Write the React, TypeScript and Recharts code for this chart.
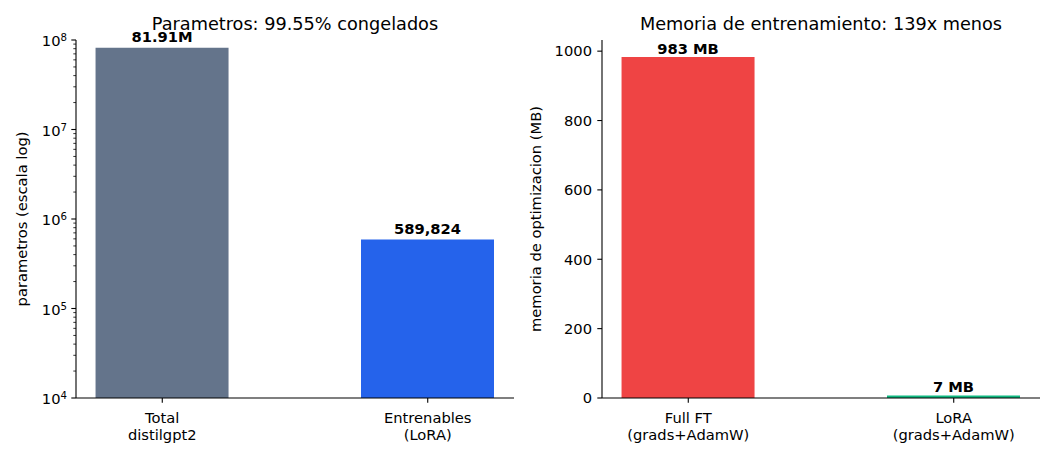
import React from 'react'
import { BarChart, Bar, XAxis, YAxis, Cell, LabelList } from 'recharts'

// Parametros (escala log)
const paramLabels = ['Total\ndistilgpt2', 'Entrenables\n(LoRA)']
const paramValues = [81912576, 589824]
const paramColors = ['#64748b', '#2563eb']
const paramTicks = [1e4, 1e5, 1e6, 1e7, 1e8]

// Memoria de optimizacion (MB)
const memLabels = ['Full FT\n(grads+AdamW)', 'LoRA\n(grads+AdamW)']
const memValues = [983, 7]
const memColors = ['#ef4444', '#10b981']
const memTicks = [0, 200, 400, 600, 800, 1000]

const paramData = paramLabels.map((label, i) => ({ idx: i, label, value: paramValues[i] }))
const memData = memLabels.map((label, i) => ({ idx: i, label, value: memValues[i] }))

// minor ticks of the log axis (2..9 per decade)
const paramMinorTicks = paramTicks.slice(0, -1).flatMap((d) => [2, 3, 4, 5, 6, 7, 8, 9].map((m) => m * d))

const FONT = 'DejaVu Sans, sans-serif'
const FS = 14.7
const W = 528
const H = 462
const TOP = 40
const XAXIS_H = 64
const AXIS_Y = H - XAXIS_H

const fmtParams = (v: number) => (v >= 1e6 ? (v / 1e6).toFixed(2) + 'M' : v.toLocaleString('en-US'))
const fmtMem = (v: number) => `${Math.round(v)} MB`

const makeXTick = (labels: string[]) => (props: any) => {
  const { x, payload } = props
  const lines = (labels[payload.value] || '').split('\n')
  return (
    <g>
      <line x1={x} x2={x} y1={AXIS_Y} y2={AXIS_Y + 4.7} stroke="#000" strokeWidth={1.1} />
      {lines.map((l, i) => (
        <text key={i} x={x} y={AXIS_Y + 25 + i * 17} textAnchor="middle" fontSize={FS} fontFamily={FONT} fill="#000">
          {l}
        </text>
      ))}
    </g>
  )
}

const makeLogTick = (axisX: number) => (props: any) => {
  const { y, payload } = props
  const lg = Math.log10(payload.value)
  const exp = Math.round(lg)
  const major = Math.abs(lg - exp) < 1e-6
  return (
    <g>
      <line x1={axisX - (major ? 4.7 : 2.7)} x2={axisX} y1={y} y2={y} stroke="#000" strokeWidth={major ? 1.1 : 0.8} />
      {major && (
        <text x={axisX - 9} y={y + 6} textAnchor="end" fontSize={FS} fontFamily={FONT} fill="#000">
          10
          <tspan dy={-5} fontSize={10.2}>
            {exp}
          </tspan>
        </text>
      )}
    </g>
  )
}

const makeLinTick = (axisX: number) => (props: any) => {
  const { y, payload } = props
  return (
    <g>
      <line x1={axisX - 4.7} x2={axisX} y1={y} y2={y} stroke="#000" strokeWidth={1.1} />
      <text x={axisX - 10} y={y + 5.3} textAnchor="end" fontSize={FS} fontFamily={FONT} fill="#000">
        {payload.value}
      </text>
    </g>
  )
}

const makeBarLabel = (fmt: (v: number) => string, gap: number) => (props: any) => {
  const { x, y, width, value } = props
  return (
    <text x={x + width / 2} y={y - gap} textAnchor="middle" fontSize={FS} fontWeight="bold" fontFamily={FONT} fill="#000">
      {fmt(value)}
    </text>
  )
}

const yLabel = (text: string, x: number) => () => (
  <text
    x={x}
    y={(TOP + AXIS_Y) / 2}
    transform={`rotate(-90, ${x}, ${(TOP + AXIS_Y) / 2})`}
    textAnchor="middle"
    fontSize={FS}
    fontFamily={FONT}
    fill="#000"
  >
    {text}
  </text>
)

export default function App() {
  const leftAxisW = 76
  const rightAxisW = 74
  return (
    <div style={{ position: 'absolute', left: 0, top: 0, width: 1056, height: H, background: '#fff', fontFamily: FONT }}>
      <div style={{ position: 'absolute', left: 0, top: 0 }}>
        <BarChart width={W} height={H} data={paramData} margin={{ top: TOP, right: W - 514, left: 0, bottom: 0 }}>
          <XAxis
            type="number"
            dataKey="idx"
            domain={[-0.325, 1.325]}
            ticks={[0, 1]}
            interval={0}
            height={XAXIS_H}
            tickLine={false}
            axisLine={{ stroke: '#000', strokeWidth: 1.1 }}
            tick={makeXTick(paramLabels)}
          />
          <YAxis
            type="number"
            scale="log"
            domain={[1e4, 1e8]}
            allowDataOverflow
            ticks={[...paramTicks, ...paramMinorTicks]}
            interval={0}
            width={leftAxisW}
            tickLine={false}
            axisLine={{ stroke: '#000', strokeWidth: 1.1 }}
            tick={makeLogTick(leftAxisW)}
            label={{ content: yLabel('parametros (escala log)', 27) }}
          />
          <Bar dataKey="value" barSize={133} isAnimationActive={false}>
            {paramData.map((d, i) => (
              <Cell key={d.label} fill={paramColors[i]} />
            ))}
            <LabelList dataKey="value" content={makeBarLabel(fmtParams, 6)} />
          </Bar>
        </BarChart>
      </div>
      <div style={{ position: 'absolute', left: W, top: 0 }}>
        <BarChart width={W} height={H} data={memData} margin={{ top: TOP, right: W - 512, left: 0, bottom: 0 }}>
          <XAxis
            type="number"
            dataKey="idx"
            domain={[-0.325, 1.325]}
            ticks={[0, 1]}
            interval={0}
            height={XAXIS_H}
            tickLine={false}
            axisLine={{ stroke: '#000', strokeWidth: 1.1 }}
            tick={makeXTick(memLabels)}
          />
          <YAxis
            type="number"
            domain={[0, 1032.15]}
            allowDataOverflow
            ticks={memTicks}
            interval={0}
            width={rightAxisW}
            tickLine={false}
            axisLine={{ stroke: '#000', strokeWidth: 1.1 }}
            tick={makeLinTick(rightAxisW)}
            label={{ content: yLabel('memoria de optimizacion (MB)', 541 - W) }}
          />
          <Bar dataKey="value" barSize={133} isAnimationActive={false}>
            {memData.map((d, i) => (
              <Cell key={d.label} fill={memColors[i]} />
            ))}
            <LabelList dataKey="value" content={makeBarLabel(fmtMem, 3.5)} />
          </Bar>
        </BarChart>
      </div>
      <svg width={1056} height={H} style={{ position: 'absolute', left: 0, top: 0, pointerEvents: 'none' }}>
        <text x={295} y={30} textAnchor="middle" fontSize={17.7} fontFamily={FONT} fill="#000">
          Parametros: 99.55% congelados
        </text>
        <text x={821} y={30} textAnchor="middle" fontSize={17.7} fontFamily={FONT} fill="#000">
          Memoria de entrenamiento: 139x menos
        </text>
      </svg>
    </div>
  )
}
